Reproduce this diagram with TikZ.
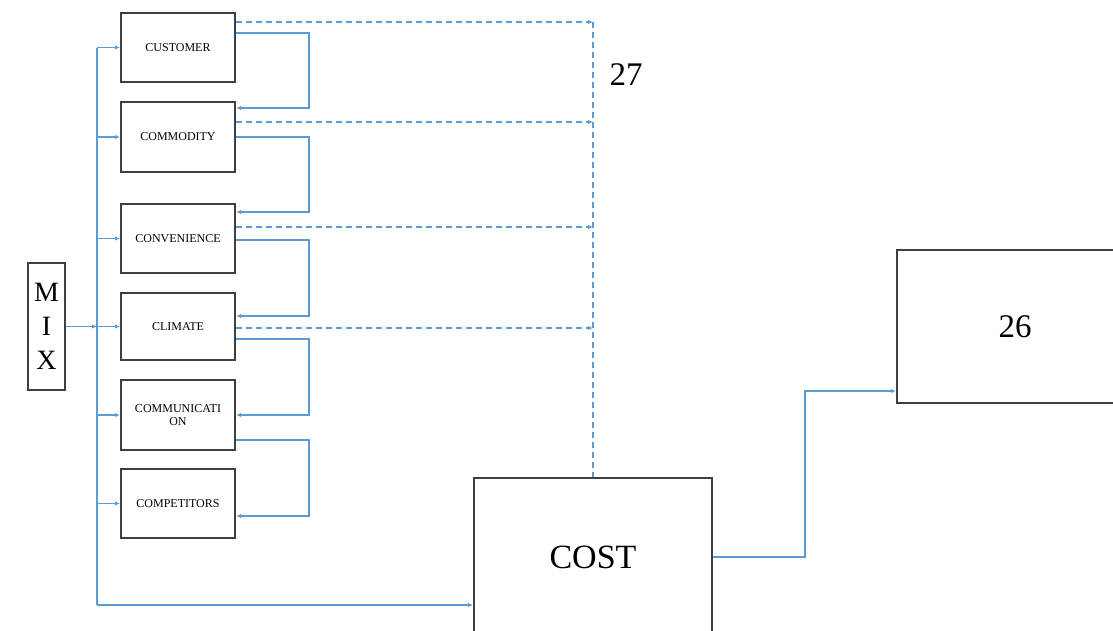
\documentclass[tikz,border=0pt]{standalone}
\usepackage{fontspec}
\setmainfont{Liberation Serif}
\usetikzlibrary{arrows.meta}
\definecolor{lineblue}{HTML}{5B9BD5}
\definecolor{boxgray}{HTML}{3F3F3F}
\begin{document}
\begin{tikzpicture}[x=1pt,y=-1pt,
  box/.style={draw=boxgray,line width=2pt,fill=white,inner sep=0pt,align=center},
  smallbox/.style={box,minimum width=114pt,font=\fontsize{12}{14}\selectfont},
  conn/.style={draw=lineblue,line width=1.4pt},
  arr/.style={conn,-{Latex[length=5pt,width=4.5pt]}},
  dsh/.style={conn,dash pattern=on 6pt off 4pt}]
\useasboundingbox (0,0) rectangle (1113,630);
% boxes
\node[smallbox,minimum height=69pt] (cust) at (178,47.5) {CUSTOMER};
\node[smallbox,minimum height=70pt] (comm) at (178,137) {COMMODITY};
\node[smallbox,minimum height=69pt] (conv) at (178,238.5) {CONVENIENCE};
\node[smallbox,minimum height=67pt] (clim) at (178,326.5) {CLIMATE};
\node[smallbox,minimum height=70pt] (commu) at (178,415) {COMMUNICATI\\[-1pt]ON};
\node[smallbox,minimum height=69pt] (comp) at (178,503.5) {COMPETITORS};
\node[box,minimum width=37pt,minimum height=127pt,font=\fontsize{28}{34}\selectfont] (mix) at (46.5,326.5) {M\\I\\X};
\node[box,minimum width=238pt,minimum height=158pt,font=\fontsize{34}{40}\selectfont] (cost) at (593,557) {COST};
\node[box,minimum width=236pt,minimum height=153pt,font=\fontsize{33}{40}\selectfont] (b26) at (1015,326.5) {26};
\node[font=\fontsize{33}{40}\selectfont] (l27) at (626,75) {27};
% bus
\coordinate (bt) at (97,47.5);
\coordinate (bb) at (97,605);
\draw[conn] (bt) -- (bb);
\draw[arr] (mix.east) -- (mix.east -| bt);
\foreach \n in {cust,comm,conv,clim,commu,comp}
  \draw[arr] (\n.west -| bt) -- (\n.west);
\draw[arr] (bb) -- (bb -| cost.west);
% feedback loops
\draw[arr] ([yshift=14.5pt]cust.east) -- ++(73,0) |- ([yshift=29pt]comm.east);
\draw[arr] (comm.east) -- ++(73,0) |- ([yshift=26.5pt]conv.east);
\draw[arr] ([yshift=-1.5pt]conv.east) -- ++(73,0) |- ([yshift=10.5pt]clim.east);
\draw[arr] ([yshift=-12.5pt]clim.east) -- ++(73,0) |- (commu.east);
\draw[arr] ([yshift=-25pt]commu.east) -- ++(73,0) |- ([yshift=-12.5pt]comp.east);
% dashed lines
\coordinate (dv) at (593,22);
\draw[dsh] (dv) -- (cost.north);
\draw[dsh,arr] ([yshift=25.5pt]cust.east) coordinate (d1) -- (d1 -| cost.north);
\draw[dsh,arr] ([yshift=15pt]comm.east) coordinate (d2) -- (d2 -| cost.north);
\draw[dsh,arr] ([yshift=11.5pt]conv.east) coordinate (d3) -- (d3 -| cost.north);
\draw[dsh,arr] ([yshift=-1.5pt]clim.east) coordinate (d4) -- (d4 -| cost.north);
% cost to 26
\draw[arr] (cost.east) -- ++(92,0) |- ([yshift=-64.5pt]b26.west);
\end{tikzpicture}
\end{document}
